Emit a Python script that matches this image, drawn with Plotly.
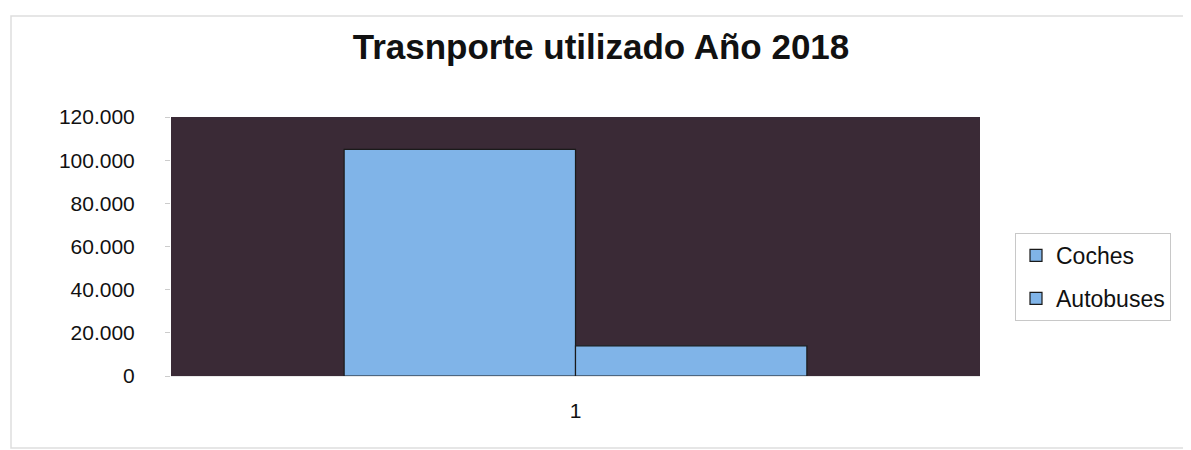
import plotly.graph_objects as go

categories = ["1"]
series_names = ["Coches", "Autobuses"]
coches = [105000]
autobuses = [14000]

OFF = 8  # page body margin
W, H = 1191 - OFF, 450 - OFF
L, R, T, B = 171 - OFF, 1191 - 980, 117 - OFF, 450 - 376
pw, ph = W - L - R, H - T - B

def px(x):
    return (x - OFF - L) / pw

def py(y):
    return (H - B - (y - OFF)) / ph

fig = go.Figure()
for name, vals in zip(series_names, [coches, autobuses]):
    fig.add_trace(go.Bar(
        x=categories, y=vals, name=name, legendgroup=name,
        marker=dict(color="#80b4e8", line=dict(color="#1a1a1a", width=1.2)),
    ))

fig.update_layout(
    width=W, height=H,
    margin=dict(l=L, r=R, t=T, b=B),
    paper_bgcolor="white",
    plot_bgcolor="#3a2a36",
    separators=",.",
    barmode="group",
    bargap=0.428,
    bargroupgap=0,
    font=dict(family="Liberation Sans, Arial, sans-serif", color="#111111", size=21),
    title=dict(text="<b>Trasnporte utilizado Año 2018</b>", xref="container",
               x=(601 - OFF) / W, xanchor="center",
               y=1 - (47 - OFF) / H, yanchor="middle", font=dict(size=35, color="#111111")),
    legend=dict(x=px(1015), y=py(277), xanchor="left", yanchor="middle",
                bordercolor="#c8c8c8", borderwidth=1, bgcolor="white",
                font=dict(size=23), itemwidth=30, tracegroupgap=10),
    showlegend=True,
    shapes=[dict(type="rect", xref="paper", yref="paper",
                 x0=px(11), x1=px(1188), y0=py(448), y1=py(16),
                 line=dict(color="#dedede", width=1.5), fillcolor="rgba(0,0,0,0)", layer="below")],
)
fig.update_yaxes(range=[0, 120000], dtick=20000, tickformat=",d", showgrid=False,
                 ticks="outside", ticklen=5, tickcolor="#cccccc", zeroline=False,
                 ticklabelstandoff=26, tickfont=dict(size=21))
fig.update_xaxes(type="category", showgrid=False, ticks="", showline=True,
                 linecolor="#e8e8e8", linewidth=1, ticklabelstandoff=16,
                 tickfont=dict(size=21))

fig.write_html("out.html")
